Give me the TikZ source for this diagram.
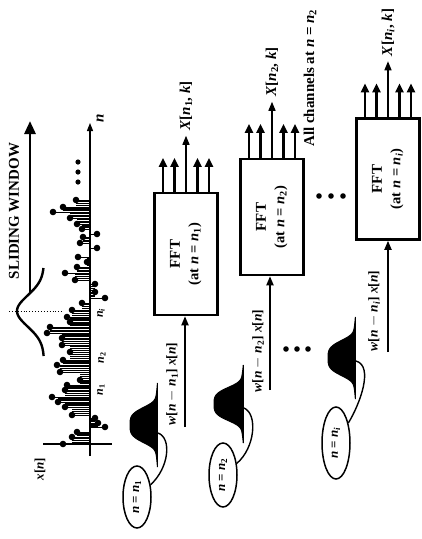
\documentclass[tikz,border=0pt]{standalone}
\usepackage{fontspec}
\setmainfont{Liberation Serif}
\usetikzlibrary{arrows.meta,shapes.geometric}

% italic symbols used in the labels
\newcommand{\vv}[1]{\textit{#1}}
\newcommand{\nsub}[1]{\textit{n}\textsubscript{#1}}

\tikzset{
  rtxt/.style={rotate=90, inner sep=0pt, font=\bfseries\fontsize{15}{17}\selectfont},
  stxt/.style={rotate=90, inner sep=0pt, font=\bfseries\fontsize{12}{14}\selectfont},
  fftbox/.style={draw, line width=2.5pt, minimum width=63pt, inner sep=0pt},
  chan/.style={-{Triangle[length=9pt,width=8pt]}, line width=2.3pt},
  mainout/.style={-{Triangle[length=9pt,width=7pt]}, line width=1.4pt},
  feed/.style={-{Triangle[length=9pt,width=7pt]}, line width=1.8pt},
  win/.style={fill=black, draw=black, line width=1pt},
  tag/.style={draw, ellipse, rotate=90, line width=1.5pt, minimum height=28pt, inner sep=0pt,
              font=\bfseries\fontsize{13}{15}\selectfont},
  link/.style={line width=1.4pt},
  stem/.style={line width=0.7pt},
  axis/.style={line width=1.2pt},
}

\begin{document}
\begin{tikzpicture}[x=1pt,y=-1pt]
\useasboundingbox (0,0) rectangle (422,539);

% ---------------- input signal x[n] ----------------
\coordinate (nlo) at (90,456);
\coordinate (nhi) at (90,123);
\draw[axis,-{Triangle[length=8pt,width=6pt]}] (nlo) -- (nhi);
\coordinate (alo) at (43,444);
\coordinate (ahi) at (112,444);
\draw[axis] (alo) -- (ahi);
\node[rtxt] (nlab) at (100,118) {\vv{n}};
\node[rtxt, font=\bfseries\fontsize{13}{15}\selectfont] (xlab) at (40,469) {\vv{x}[\vv{n}]};

\foreach \px/\py [remember=\px as \qx (initially 63), remember=\py as \qy (initially 444)] in
  {63/444, 72/437, 77/432, 105/427, 98/423, 95/418, 72/415, 65/407, 58/402, 52/397,
   65/390, 67/385, 80/380, 60/372, 57/365, 63/360, 70/352, 62/345, 62/338, 47/333,
   50/327, 70/322, 67/317, 72/310, 82/303, 105/298, 95/292, 95/284, 75/280, 65/273,
   77/267, 87/262, 78/257, 97/248, 80/243, 83/237, 97/234, 82/229, 77/224, 70/218,
   53/212, 63/207, 76/200}{
  % stems between two samples reach the shorter of their neighbours
  \pgfmathsetmacro\mx{((\px-90)*(\qx-90)>0) ? (90+((\px<90)?-1:1)*min(abs(\px-90),abs(\qx-90))) : 90}
  \foreach \f in {0.25,0.5,0.75}{
    \pgfmathsetmacro\my{\qy+(\py-\qy)*\f}
    \draw[stem] (90,\my) -- (\mx,\my);
  }
  \draw[stem] (90,\py) -- (\px,\py);
  \fill (\px,\py) circle[radius=3.3];
}
\foreach \py in {162,172,182}{\fill (78,\py) circle[radius=2.6];}

\node[stxt] (ti) at (101,313) {\nsub{\textit{i}}};
\node[stxt] (t2) at (102,358) {\nsub{2}};
\node[stxt] (t1) at (101,390) {\nsub{1}};

% ---------------- sliding window ----------------
\draw[line width=0.9pt, dotted] (9,311) -- (64,311);
\draw[line width=2.4pt] plot[domain=268:356, samples=60] ({44-27*exp(-(((\x-311)/22)^2))}, \x);
\coordinate (swlo) at (30,292);
\coordinate (swhi) at (30,121);
\draw[line width=2.8pt, -{Triangle[length=13pt,width=11pt]}] (swlo) -- (swhi);
\node[rtxt, font=\bfseries\fontsize{15}{17}\selectfont] (swlab) at (14,211) {SLIDING WINDOW};

% ---------------- FFT channels ----------------
\node[fftbox, minimum height=122pt] (fft1) at (186,254) {};
\node[fftbox, minimum height=116pt] (fft2) at (272,217) {};
\node[fftbox, minimum height=121pt] (fft3) at (388,179) {};

\foreach \b/\s in {fft1/1, fft2/2, fft3/\textit{i}}{
  \node[rtxt] (\b-a) at ([xshift=-11pt]\b.center) {FFT};
  \node[stxt, font=\bfseries\fontsize{14.5}{16}\selectfont] (\b-b) at ([xshift=9pt]\b.center) {(at \vv{n} = \nsub{\s})};
  \foreach \dx in {-23,-11.5,11.5,23}{
    \draw[chan] ([xshift=\dx pt]\b.north) -- ++(0,-34);
  }
  \draw[mainout] (\b.north) -- ++(0,-56) coordinate (\b-top);
  \node[rtxt, anchor=west] (\b-x) at ([yshift=5pt]\b-top) {\vv{X}[\nsub{\s}, \vv{k}]};
}

\node[rtxt, font=\bfseries\fontsize{15}{17}\selectfont] (allch) at (310,78) {All channels at \vv{n} = \nsub{2}};

% inputs: windowed signal segments
\coordinate (in1) at (185,427);
\coordinate (in2) at (270,390);
\coordinate (in3) at (388,352);
\draw[feed] (in1) -- (in1 |- fft1.south);
\draw[feed] (in2) -- (in2 |- fft2.south);
\draw[feed] (in3) -- (in3 |- fft3.south);
\node[stxt, font=\bfseries\fontsize{13.5}{15}\selectfont] (lab1) at (172,384) {\vv{w}[\vv{n} $-$ \nsub{1}] \vv{x}[\vv{n}]};
\node[stxt, font=\bfseries\fontsize{13.5}{15}\selectfont] (lab2) at (258,351) {\vv{w}[\vv{n} $-$ \nsub{2}] \vv{x}[\vv{n}]};
\node[stxt, font=\bfseries\fontsize{13.5}{15}\selectfont] (lab3) at (374,311) {\vv{w}[\vv{n} $-$ \nsub{\textit{i}}] \vv{x}[\vv{n}]};

% window shapes: broad dome with thin tails
\filldraw[win] plot[domain=-42:42, samples=80] ({158-28*(0.8*exp(-((\x/19)^4))+0.2*exp(-((\x/28)^2)))}, {425+\x}) -- cycle;
\filldraw[win] plot[domain=-39:39, samples=80] ({244-30*(0.8*exp(-((\x/18)^4))+0.2*exp(-((\x/27)^2)))}, {404+\x}) -- cycle;
\filldraw[win] plot[domain=-41:41, samples=80] ({356-28*(0.8*exp(-((\x/19)^4))+0.2*exp(-((\x/28)^2)))}, {358+\x}) -- cycle;
\coordinate (w1) at (158,433);
\coordinate (w2) at (244,408);
\coordinate (w3) at (356,361);

% window positions
\node[tag, minimum width=62pt] (e1) at (137,497) {\vv{n} = \nsub{1}};
\node[tag, minimum width=64pt] (e2) at (223,475) {\vv{n} = \nsub{2}};
\node[tag, minimum width=72pt] (e3) at (336,443) {\vv{n} = \nsub{\textit{i}}};
\draw[link] (w1) .. controls (172,438) and (169,468) .. (e1);
\draw[link] (w2) .. controls (258,414) and (255,448) .. (e2);
\draw[link] (w3) .. controls (374,366) and (360,404) .. (e3);

% ellipsis marks between channels
\foreach \x in {319,331,343}{\fill (\x,196) circle[radius=2.8];}
\foreach \x in {286,297,308}{\fill (\x,349) circle[radius=2.8];}
\end{tikzpicture}
\end{document}
